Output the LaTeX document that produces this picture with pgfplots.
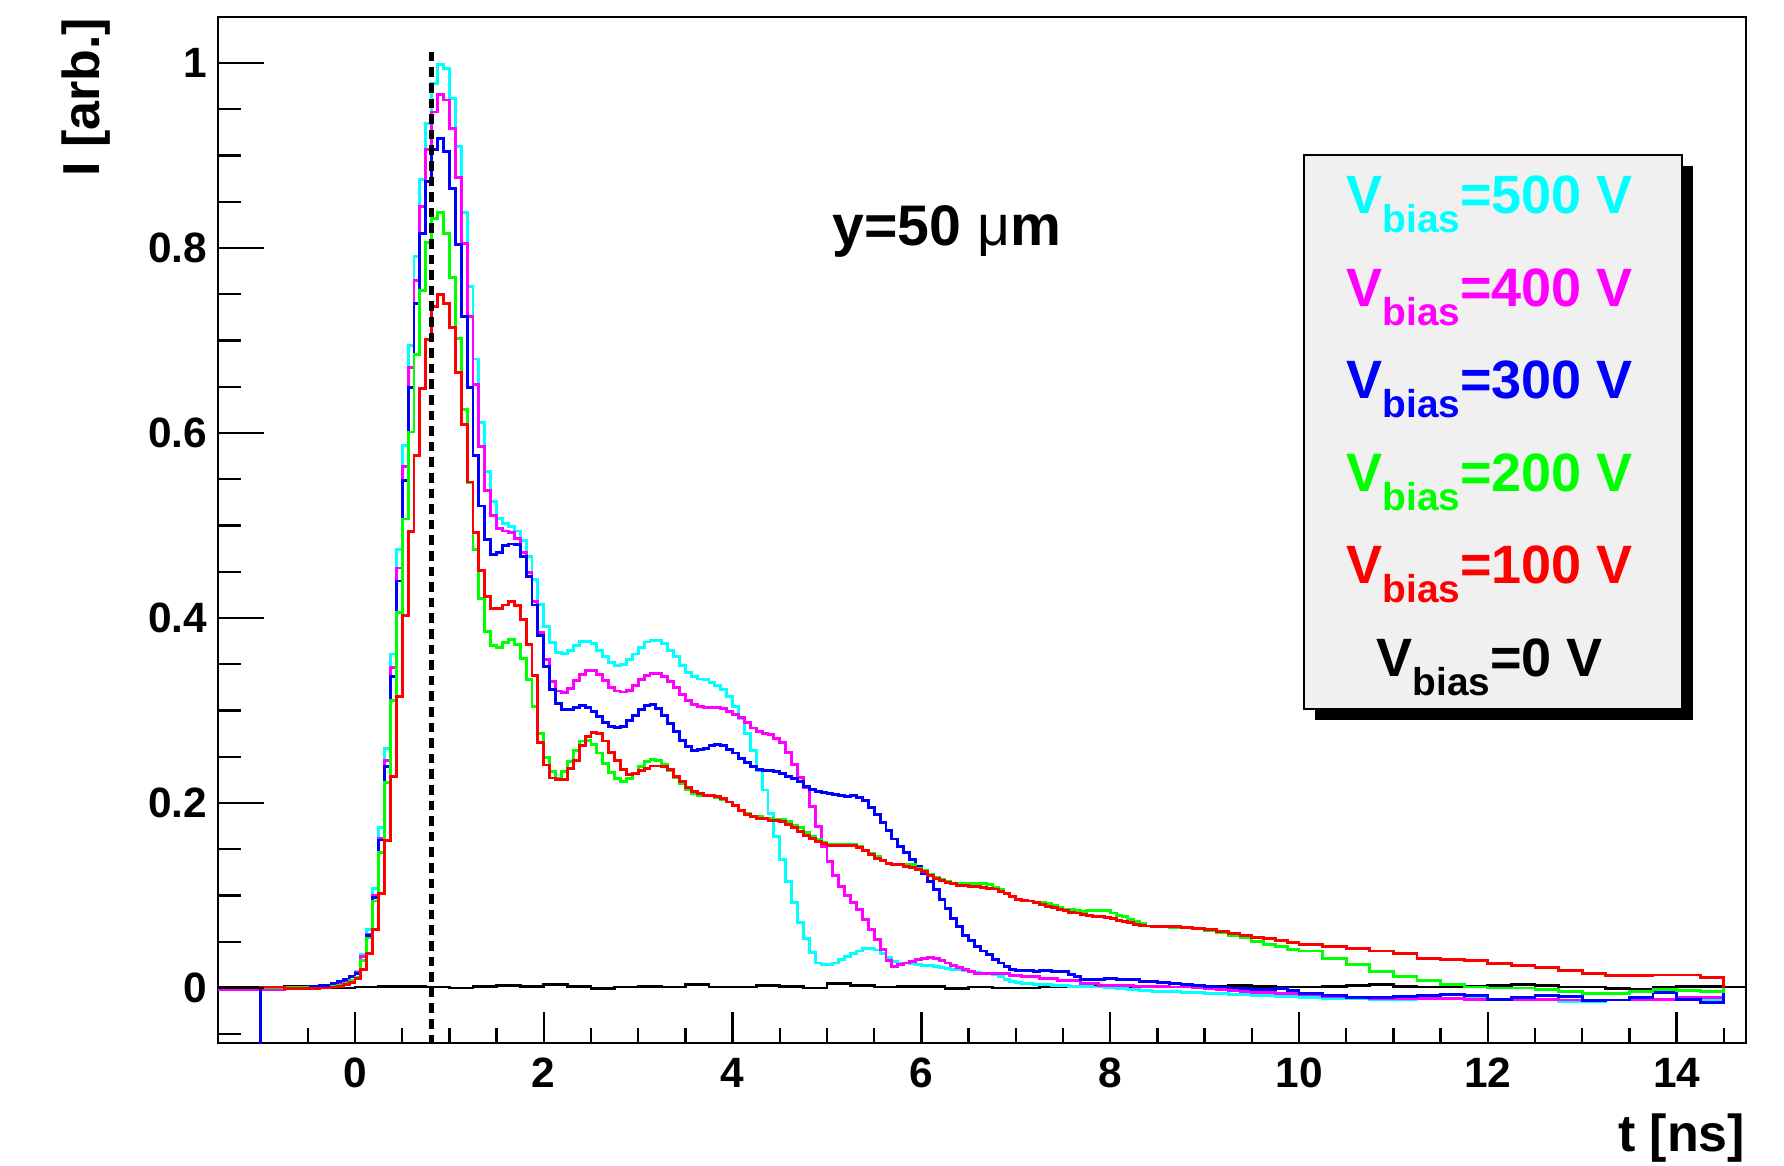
\documentclass[border=0pt]{standalone}
\usepackage{pgfplots}
\usepackage{pgfplotstable}
\pgfplotsset{compat=1.18}
\usepackage{fontspec}
\setmainfont{Liberation Sans}
\definecolor{rcyan}{RGB}{0,255,255}
\definecolor{rmag}{RGB}{255,0,255}
\definecolor{rblue}{RGB}{0,0,255}
\definecolor{rgreen}{RGB}{0,255,0}
\definecolor{rred}{RGB}{255,0,0}
\definecolor{legfill}{RGB}{240,240,240}
\newcommand{\lf}{\fontsize{13.5}{16}\selectfont\bfseries}
\newcommand{\sub}[1]{\raisebox{-4.8pt}{\fontsize{9.7}{11}\selectfont\bfseries #1}}
\newcommand{\vb}[1]{V\sub{bias}=#1 V}

\pgfplotstableread{
t C M B G R
-1.5 -0.001 -0.002 0.000 0.000 0.000
-1.25 -0.001 -0.002 0.000 0.000 0.000
-1.0 0.000 -0.002 0.000 0.000 0.001
-0.75 0.000 -0.001 0.001 0.001 -0.001
-0.5 0.001 0.000 0.002 -0.001 -0.001
-0.375 0.002 0.002 0.003 0.000 0.000
-0.25 0.004 0.004 0.005 0.002 0.001
-0.1875 0.006 0.006 0.007 0.003 0.002
-0.125 0.008 0.008 0.009 0.005 0.004
-0.0625 0.012 0.012 0.012 0.008 0.006
0 0.018 0.017 0.016 0.011 0.010
0.0625 0.036 0.034 0.030 0.030 0.020
0.125 0.063 0.058 0.057 0.054 0.037
0.1875 0.108 0.100 0.098 0.094 0.063
0.25 0.173 0.162 0.160 0.146 0.102
0.3125 0.259 0.246 0.239 0.222 0.159
0.375 0.361 0.346 0.337 0.311 0.229
0.4375 0.474 0.454 0.440 0.406 0.315
0.5 0.586 0.564 0.549 0.507 0.403
0.5625 0.695 0.671 0.649 0.601 0.493
0.625 0.791 0.765 0.740 0.685 0.576
0.6875 0.874 0.845 0.816 0.754 0.648
0.75 0.935 0.906 0.872 0.806 0.701
0.8125 0.978 0.947 0.906 0.832 0.737
0.875 0.998 0.966 0.918 0.838 0.750
0.9375 0.994 0.960 0.904 0.816 0.740
1.0 0.962 0.929 0.864 0.768 0.714
1.0625 0.910 0.876 0.804 0.702 0.665
1.125 0.838 0.805 0.726 0.625 0.609
1.1875 0.758 0.726 0.649 0.546 0.547
1.25 0.680 0.652 0.576 0.474 0.492
1.3125 0.611 0.585 0.521 0.421 0.451
1.375 0.558 0.538 0.485 0.385 0.423
1.4375 0.526 0.511 0.469 0.370 0.410
1.5 0.508 0.497 0.471 0.368 0.410
1.5625 0.502 0.494 0.478 0.373 0.414
1.625 0.499 0.492 0.480 0.377 0.418
1.6875 0.494 0.486 0.479 0.371 0.413
1.75 0.484 0.471 0.466 0.356 0.398
1.8125 0.466 0.449 0.445 0.333 0.371
1.875 0.442 0.418 0.414 0.304 0.338
1.9375 0.415 0.384 0.381 0.275 0.265
2.0 0.391 0.355 0.348 0.249 0.241
2.0625 0.373 0.331 0.323 0.234 0.227
2.125 0.363 0.321 0.308 0.227 0.225
2.1875 0.362 0.319 0.301 0.234 0.225
2.25 0.365 0.324 0.301 0.245 0.237
2.3125 0.370 0.332 0.303 0.257 0.246
2.375 0.375 0.339 0.305 0.267 0.262
2.4375 0.375 0.343 0.303 0.268 0.272
2.5 0.372 0.343 0.299 0.263 0.276
2.5625 0.365 0.339 0.293 0.254 0.275
2.625 0.358 0.332 0.287 0.243 0.267
2.6875 0.352 0.325 0.283 0.233 0.255
2.75 0.349 0.321 0.282 0.226 0.246
2.8125 0.350 0.320 0.283 0.223 0.236
2.875 0.355 0.322 0.289 0.226 0.231
2.9375 0.361 0.327 0.295 0.232 0.232
3.0 0.368 0.333 0.301 0.239 0.235
3.0625 0.374 0.338 0.305 0.245 0.237
3.125 0.376 0.340 0.306 0.247 0.240
3.1875 0.376 0.340 0.302 0.246 0.240
3.25 0.372 0.337 0.295 0.242 0.239
3.3125 0.365 0.331 0.286 0.235 0.236
3.375 0.358 0.325 0.277 0.227 0.229
3.4375 0.349 0.317 0.268 0.221 0.223
3.5 0.341 0.311 0.261 0.215 0.217
3.5625 0.337 0.306 0.257 0.210 0.212
3.625 0.334 0.304 0.258 0.208 0.210
3.6875 0.333 0.303 0.259 0.208 0.208
3.75 0.330 0.303 0.262 0.208 0.208
3.8125 0.327 0.303 0.263 0.206 0.207
3.875 0.323 0.302 0.262 0.204 0.205
3.9375 0.315 0.299 0.258 0.201 0.201
4.0 0.304 0.296 0.254 0.197 0.197
4.0625 0.291 0.292 0.248 0.192 0.192
4.125 0.275 0.287 0.244 0.189 0.188
4.1875 0.257 0.281 0.239 0.185 0.185
4.25 0.235 0.277 0.236 0.185 0.183
4.3125 0.214 0.275 0.235 0.183 0.183
4.375 0.189 0.274 0.235 0.183 0.181
4.4375 0.164 0.270 0.234 0.182 0.181
4.5 0.139 0.265 0.232 0.182 0.180
4.5625 0.115 0.255 0.229 0.180 0.177
4.625 0.092 0.242 0.226 0.176 0.173
4.6875 0.071 0.228 0.223 0.173 0.169
4.75 0.053 0.217 0.218 0.168 0.165
4.8125 0.038 0.196 0.215 0.164 0.162
4.875 0.027 0.175 0.212 0.161 0.158
4.9375 0.025 0.153 0.211 0.157 0.156
5.0 0.025 0.137 0.210 0.155 0.154
5.0625 0.027 0.122 0.209 0.155 0.154
5.125 0.031 0.110 0.208 0.155 0.154
5.1875 0.034 0.100 0.207 0.155 0.154
5.25 0.037 0.092 0.208 0.155 0.154
5.3125 0.040 0.085 0.206 0.153 0.152
5.375 0.043 0.074 0.203 0.149 0.149
5.4375 0.043 0.063 0.195 0.145 0.144
5.5 0.041 0.052 0.188 0.142 0.140
5.5625 0.037 0.042 0.179 0.138 0.138
5.625 0.033 0.030 0.170 0.135 0.135
5.6875 0.029 0.023 0.161 0.134 0.133
5.75 0.027 0.025 0.153 0.134 0.133
5.8125 0.027 0.027 0.146 0.133 0.131
5.875 0.026 0.029 0.139 0.133 0.130
5.9375 0.025 0.031 0.131 0.129 0.128
6.0 0.024 0.032 0.124 0.127 0.126
6.0625 0.024 0.033 0.115 0.123 0.122
6.125 0.023 0.032 0.106 0.120 0.118
6.1875 0.022 0.030 0.096 0.117 0.116
6.25 0.021 0.027 0.086 0.115 0.114
6.3125 0.020 0.024 0.075 0.113 0.113
6.375 0.020 0.022 0.066 0.113 0.111
6.4375 0.019 0.020 0.057 0.113 0.111
6.5 0.018 0.018 0.051 0.113 0.110
6.5625 0.017 0.016 0.045 0.113 0.110
6.625 0.016 0.016 0.040 0.113 0.109
6.6875 0.016 0.016 0.036 0.112 0.108
6.75 0.015 0.016 0.031 0.109 0.107
6.8125 0.012 0.016 0.027 0.106 0.104
6.875 0.009 0.016 0.023 0.102 0.102
6.9375 0.007 0.013 0.020 0.099 0.099
7.0 0.006 0.013 0.019 0.096 0.096
7.0625 0.005 0.012 0.019 0.095 0.095
7.125 0.005 0.012 0.019 0.094 0.094
7.1875 0.004 0.012 0.018 0.092 0.092
7.25 0.004 0.010 0.019 0.092 0.090
7.3125 0.004 0.010 0.019 0.091 0.088
7.375 0.003 0.010 0.018 0.089 0.087
7.4375 0.003 0.008 0.018 0.087 0.085
7.5 0.003 0.008 0.018 0.085 0.084
7.5625 0.002 0.008 0.015 0.085 0.082
7.625 0.002 0.008 0.012 0.084 0.081
7.6875 0.002 0.005 0.009 0.083 0.079
7.75 0.002 0.005 0.009 0.084 0.078
7.8125 0.001 0.005 0.009 0.084 0.077
7.875 0.001 0.003 0.009 0.084 0.077
7.9375 0.000 0.003 0.010 0.084 0.076
8.0 0.000 0.003 0.010 0.081 0.075
8.0625 -0.001 0.003 0.009 0.078 0.073
8.125 -0.001 0.003 0.009 0.077 0.072
8.1875 -0.002 0.003 0.009 0.074 0.071
8.25 -0.002 0.002 0.009 0.072 0.069
8.3125 -0.003 0.002 0.007 0.070 0.068
8.375 -0.003 0.002 0.007 0.067 0.067
8.4375 -0.004 0.002 0.007 0.066 0.066
8.5 -0.004 0.002 0.006 0.066 0.066
8.625 -0.004 0.001 0.005 0.065 0.066
8.75 -0.005 0.001 0.004 0.065 0.065
8.875 -0.005 0.000 0.003 0.064 0.064
9.0 -0.006 -0.001 0.002 0.062 0.063
9.125 -0.006 -0.002 0.001 0.060 0.061
9.25 -0.007 -0.003 0.000 0.057 0.059
9.375 -0.007 -0.004 -0.001 0.054 0.057
9.5 -0.008 -0.005 -0.002 0.050 0.055
9.625 -0.008 -0.005 -0.002 0.047 0.053
9.75 -0.009 -0.006 -0.001 0.045 0.051
9.875 -0.009 -0.006 -0.003 0.042 0.049
10.0 -0.010 -0.007 -0.006 0.040 0.047
10.25 -0.011 -0.009 -0.008 0.032 0.045
10.5 -0.011 -0.010 -0.010 0.025 0.043
10.75 -0.012 -0.011 -0.010 0.018 0.040
11.0 -0.012 -0.011 -0.009 0.012 0.037
11.25 -0.011 -0.011 -0.008 0.008 0.032
11.5 -0.011 -0.011 -0.007 0.004 0.031
11.75 -0.011 -0.012 -0.008 0.001 0.030
12.0 -0.012 -0.012 -0.012 0.000 0.026
12.25 -0.012 -0.012 -0.010 0.000 0.024
12.5 -0.013 -0.012 -0.008 -0.002 0.022
12.75 -0.015 -0.013 -0.009 -0.004 0.019
13.0 -0.015 -0.013 -0.014 -0.006 0.016
13.25 -0.013 -0.013 -0.013 -0.006 0.013
13.5 -0.013 -0.013 -0.010 -0.004 0.013
13.75 -0.013 -0.012 -0.005 -0.002 0.014
14.0 -0.013 -0.010 -0.012 -0.003 0.014
14.25 -0.013 -0.010 -0.016 -0.004 0.011
14.5 0.000 0.000 0.000 0.000 0.000
}\data

\begin{document}
\begin{tikzpicture}
\begin{axis}[name=main,
  scale only axis, width=382pt, height=256.5pt,
  xmin=-1.451, xmax=14.735, ymin=-0.0595, ymax=1.0497,
  axis line style={line width=0.65pt},
  tick align=inside, xtick pos=bottom, ytick pos=left,
  xtick={0,2,...,14}, minor xtick={-1,-0.5,...,14.5},
  ytick=\empty,
  major tick length=7.7pt, minor tick length=3.85pt,
  tick style={black, line width=0.6pt},
  /pgf/number format/assume math mode=true,
  xticklabel style={anchor=center, inner sep=0pt, yshift=-7.5pt,
    font=\fontsize{10.6}{12}\selectfont\bfseries},
  every axis plot/.append style={line width=0.72pt},
]
\addplot[const plot, black] coordinates {
(-1.5,0.001) (-1.25,0.001) (-1.0,0.001) (-0.75,0.002) (-0.5,0.001) (-0.25,0.000)
(0,0.001) (0.25,0.002) (0.5,0.002) (0.75,0.001) (1.0,0.000) (1.25,0.002)
(1.5,0.003) (1.75,0.002) (2.0,0.004) (2.25,0.002) (2.5,-0.001) (2.75,0.001)
(3.0,0.002) (3.25,0.001) (3.5,0.004) (3.75,0.001) (4.0,0.001) (4.25,0.003)
(4.5,0.002) (4.75,0.000) (5.0,0.005) (5.25,0.003) (5.5,0.001) (5.75,0.002)
(6.0,0.002) (6.25,-0.001) (6.5,0.001) (6.75,0.000) (7.0,0.000) (7.25,0.001)
(7.5,0.001) (7.75,0.002) (8.0,0.002) (8.25,0.001) (8.5,0.001) (8.75,0.002)
(9.0,0.002) (9.25,0.003) (9.5,0.002) (9.75,0.001) (10.0,0.001) (10.25,0.002)
(10.5,0.003) (10.75,0.004) (11.0,0.002) (11.25,0.001) (11.5,0.001) (11.75,0.002)
(12.0,0.003) (12.25,0.004) (12.5,0.003) (12.75,0.001) (13.0,0.001) (13.25,-0.001)
(13.5,-0.002) (13.75,0.001) (14.0,0.002) (14.25,0.002) (14.5,0.001) (14.75,0.001)
};
\addplot[const plot, rcyan] table[x=t, y=C] {\data};
\addplot[const plot, rmag] table[x=t, y=M] {\data};
\addplot[const plot, rblue, restrict x to domain=-1.01:15] table[x=t, y=B] {\data};
\addplot[rblue, line width=0.55pt] coordinates {(-1.0,-0.08) (-1.0,0.0)};
\addplot[const plot, rgreen] table[x=t, y=G] {\data};
\addplot[const plot, rred] table[x=t, y=R] {\data};
\addplot[black, line width=1.15pt, dash pattern=on 2.4pt off 1.5pt] coordinates {(0.81,1.012) (0.81,-0.07)};

\node[anchor=base, inner sep=0pt, font=\fontsize{14.3}{17}\selectfont\bfseries] at (axis cs:6.27,0.803) {y=50 {\mdseries μ}m};

\fill[black] (axis cs:10.167,0.8886) rectangle (axis cs:14.177,0.2897);
\filldraw[fill=legfill, draw=black, line width=0.45pt] (axis cs:10.05,0.9005) rectangle (axis cs:14.06,0.3016);
\node[anchor=base, inner sep=0pt, text=rcyan, font=\lf] at (axis cs:12.02,0.837) {\vb{500}};
\node[anchor=base, inner sep=0pt, text=rmag, font=\lf] at (axis cs:12.02,0.737) {\vb{400}};
\node[anchor=base, inner sep=0pt, text=rblue, font=\lf] at (axis cs:12.02,0.637) {\vb{300}};
\node[anchor=base, inner sep=0pt, text=rgreen, font=\lf] at (axis cs:12.02,0.537) {\vb{200}};
\node[anchor=base, inner sep=0pt, text=rred, font=\lf] at (axis cs:12.02,0.437) {\vb{100}};
\node[anchor=base, inner sep=0pt, text=black, font=\lf] at (axis cs:12.02,0.337) {\vb{0}};
\end{axis}

\begin{axis}[
  scale only axis, width=382pt, height=256.5pt,
  xmin=-1.451, xmax=14.735, ymin=-0.0595, ymax=1.0497,
  axis line style={draw=none},
  tick align=inside, ytick pos=left,
  xtick=\empty,
  ytick={0,0.2,0.4,0.6,0.8,1},
  minor ytick={-0.05,0.05,0.1,0.15,0.25,0.3,0.35,0.45,0.5,0.55,0.65,0.7,0.75,0.85,0.9,0.95},
  major tick length=11.46pt, minor tick length=5.73pt,
  tick style={black, line width=0.6pt},
  /pgf/number format/assume math mode=true,
  yticklabel style={anchor=east, inner sep=0pt, xshift=-2.5pt,
    font=\fontsize{10.6}{12}\selectfont\bfseries},
]
\end{axis}

\node[anchor=base east, inner sep=0pt, font=\fontsize{13}{15}\selectfont\bfseries] at ([yshift=-27pt]main.south east) {t [ns]};
\node[rotate=90, anchor=base east, inner sep=0pt, font=\fontsize{13}{15}\selectfont\bfseries] at ([xshift=-29.5pt]main.north west) {I [arb.]};

\pgfresetboundingbox
\path[use as bounding box] ([shift={(-54.5pt,-30.5pt)}]main.south west) rectangle ([shift={(9.5pt,4.25pt)}]main.north east);
\end{tikzpicture}
\end{document}
